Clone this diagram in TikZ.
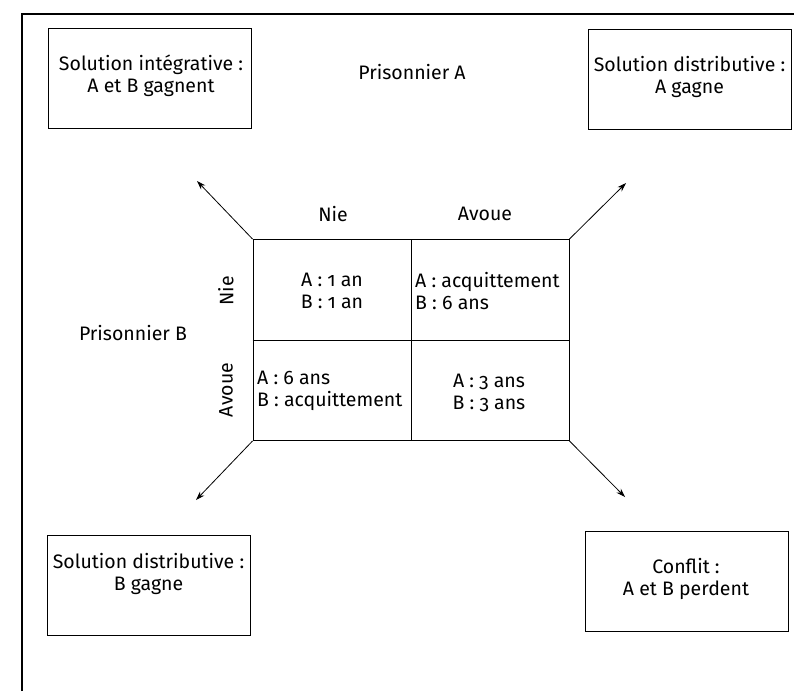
\documentclass[tikz,border=0pt]{standalone}
\usepackage{fontspec}
\setmainfont{Fira Sans}[Numbers=OldStyle]
\usetikzlibrary{arrows.meta}
\begin{document}
\begin{tikzpicture}[x=1pt,y=-1pt,
  every node/.style={font=\fontsize{19.5}{22}\selectfont, inner sep=0pt},
  outcome/.style={draw, line width=0.9pt, minimum width=203pt, minimum height=100pt},
  outtext/.style={align=center},
  frameline/.style={line width=1.2pt},
  gridline/.style={line width=0.9pt},
  tiparrow/.style={line width=0.8pt, -{Stealth[length=9pt,width=6pt]}},
  cell/.style={align=left}
]
\useasboundingbox (0,0) rectangle (794,691);
% outer frame
\coordinate (fb) at (22,691);
\coordinate (fc) at (22,14);
\coordinate (fr) at (794,14);
\draw[frameline] (fb) -- (fc) -- (fr);

% outcome boxes
\node[outcome] (tl) at (149.5,78.5) {};
\node[outtext] (tlt) at (151,76) {Solution intégrative :\\A et B gagnent};
\node[outcome] (tr) at (689.5,79) {};
\node[outtext] (trt) at (689.5,77) {Solution distributive :\\A gagne};
\node[outcome] (bl) at (148.5,585) {};
\node[outtext] (blt) at (148.5,574) {Solution distributive :\\B gagne};
\node[outcome] (br) at (687,581.5) {};
\node[outtext] (brt) at (686,578.5) {Conflit :\\A et B perdent};

\node (pa) at (412,72) {Prisonnier A};
\node (pb) at (133,333) {Prisonnier B};

% matrix
\node[draw, gridline, minimum width=316pt, minimum height=201pt] (grid) at (411,340) {};
\draw[gridline] (grid.north) -- (grid.south);
\draw[gridline] (grid.west) -- (grid.east);

\node (cn) at (333,214) {Nie};
\node (ca) at (485,214) {Avoue};
\node[rotate=90] (rn) at (226,291) {Nie};
\node[rotate=90] (ra) at (226,390) {Avoue};

\node[align=center] (c11) at (332,291) {A : 1 an\\B : 1 an};
\node[cell, anchor=west] (c12) at (415,291) {A : acquittement\\B : 6 ans};
\node[cell, anchor=west] (c21) at (257,391) {A : 6 ans\\B : acquittement};
\node[align=center] (c22) at (489,393) {A : 3 ans\\B : 3 ans};

% arrows
\coordinate (atl) at (197,181);
\coordinate (atr) at (626,183);
\coordinate (abl) at (196,500);
\coordinate (abr) at (625,497);
\draw[tiparrow] (grid.north west) -- (atl);
\draw[tiparrow] (grid.north east) -- (atr);
\draw[tiparrow] (grid.south west) -- (abl);
\draw[tiparrow] (grid.south east) -- (abr);
\end{tikzpicture}
\end{document}
